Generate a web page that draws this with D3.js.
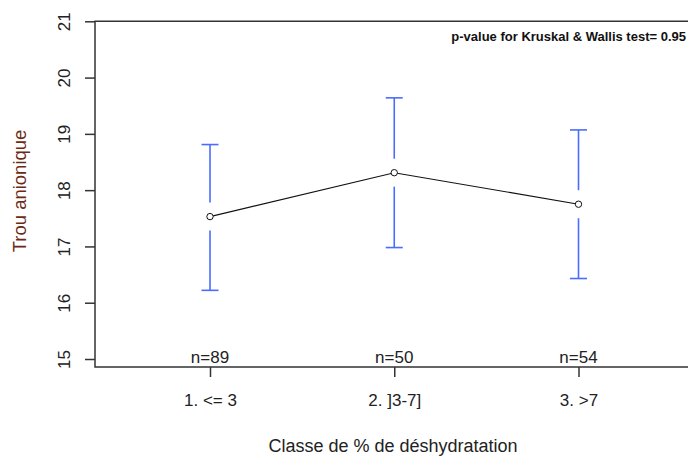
<!DOCTYPE html>
<html><head><meta charset="utf-8">
<script src="https://cdn.jsdelivr.net/npm/d3@7"></script>
<style>html,body{margin:0;padding:0;background:#fff;}svg{display:block;font-family:"Liberation Sans",Arial,sans-serif;}</style>
</head><body>
<script>
const categories = ["1. <= 3", "2. ]3-7]", "3. >7"];
const means = [17.53, 18.31, 17.75];
const upper = [18.81, 19.64, 19.07];
const lower = [16.22, 16.98, 16.43];
const counts = [89, 50, 54];
const yTicks = [15, 16, 17, 18, 19, 20, 21];
const pText = "p-value for Kruskal & Wallis test= 0.95";

(function(){
const W = 688, H = 457;
const svg = d3.select("body").append("svg").attr("width", W).attr("height", H);

const x = d3.scaleLinear().domain([1, 3]).range([210, 578.5]);
const y = d3.scaleLinear().domain([15, 21]).range([359, 21.3]);
const idx = categories.map((c, i) => i + 1);

const axisColor = "#333";
const bLeft = 95, bTop = 21.3, bBottom = 367, bRight = 700;

svg.append("path").attr("d", `M${bRight},${bTop}H${bLeft}V${bBottom}H${bRight}`)
  .attr("fill", "none").attr("stroke", axisColor).attr("stroke-width", 1.5);

const ya = svg.append("g").attr("transform", `translate(${bLeft},0)`)
  .call(d3.axisLeft(y).tickValues(yTicks).tickSize(10).tickSizeOuter(0).tickFormat(d3.format("d")));
ya.select(".domain").remove();
ya.selectAll(".tick line").attr("stroke", axisColor).attr("stroke-width", 1.5);
ya.selectAll(".tick text").attr("font-size", 17).attr("fill", "#222")
  .attr("transform", "rotate(-90)").attr("x", 0).attr("y", -25)
  .attr("dy", "0").attr("text-anchor", "middle");

const xa = svg.append("g").attr("transform", `translate(0,${bBottom})`)
  .call(d3.axisBottom(x).tickValues(idx).tickSize(10).tickSizeOuter(0).tickFormat((d, i) => categories[i]));
xa.select(".domain").remove();
xa.selectAll(".tick line").attr("stroke", axisColor).attr("stroke-width", 1.5);
xa.selectAll(".tick text").attr("font-size", 17).attr("fill", "#222").attr("y", 33).attr("dy", "0.35em");

svg.append("text").attr("x", 393).attr("y", 452).attr("text-anchor", "middle")
  .attr("font-size", 18).attr("fill", "#222").text("Classe de % de déshydratation");
svg.append("text").attr("transform", "translate(26,191) rotate(-90)").attr("text-anchor", "middle")
  .attr("font-size", 18.5).attr("fill", "#6b2a14").text("Trou anionique");

svg.append("text").attr("x", 686).attr("y", 41).attr("text-anchor", "end")
  .attr("font-size", 13).attr("font-weight", "bold").attr("fill", "#111").text(pText);

const blue = "#4a6cff", gap = 14, cap = 8.5;
const eb = svg.append("g").attr("stroke", blue).attr("stroke-width", 1.6).attr("fill", "none");
idx.forEach((d, i) => {
  const cx = x(d);
  eb.append("line").attr("x1", cx).attr("x2", cx).attr("y1", y(upper[i])).attr("y2", y(means[i]) - gap);
  eb.append("line").attr("x1", cx).attr("x2", cx).attr("y1", y(means[i]) + gap).attr("y2", y(lower[i]));
  eb.append("line").attr("x1", cx - cap).attr("x2", cx + cap).attr("y1", y(upper[i])).attr("y2", y(upper[i]));
  eb.append("line").attr("x1", cx - cap).attr("x2", cx + cap).attr("y1", y(lower[i])).attr("y2", y(lower[i]));
});

svg.append("path").datum(means).attr("fill", "none").attr("stroke", "#111").attr("stroke-width", 1.1)
  .attr("d", d3.line().x((d, i) => x(idx[i])).y(d => y(d)));
svg.selectAll("circle.pt").data(means).enter().append("circle")
  .attr("cx", (d, i) => x(idx[i])).attr("cy", d => y(d)).attr("r", 3.2)
  .attr("fill", "#fff").attr("stroke", "#111").attr("stroke-width", 1);

svg.selectAll("text.n").data(counts).enter().append("text")
  .attr("x", (d, i) => x(idx[i])).attr("y", 363).attr("text-anchor", "middle")
  .attr("font-size", 17).attr("fill", "#222").text(d => "n=" + d);
})();
</script>
</body></html>
